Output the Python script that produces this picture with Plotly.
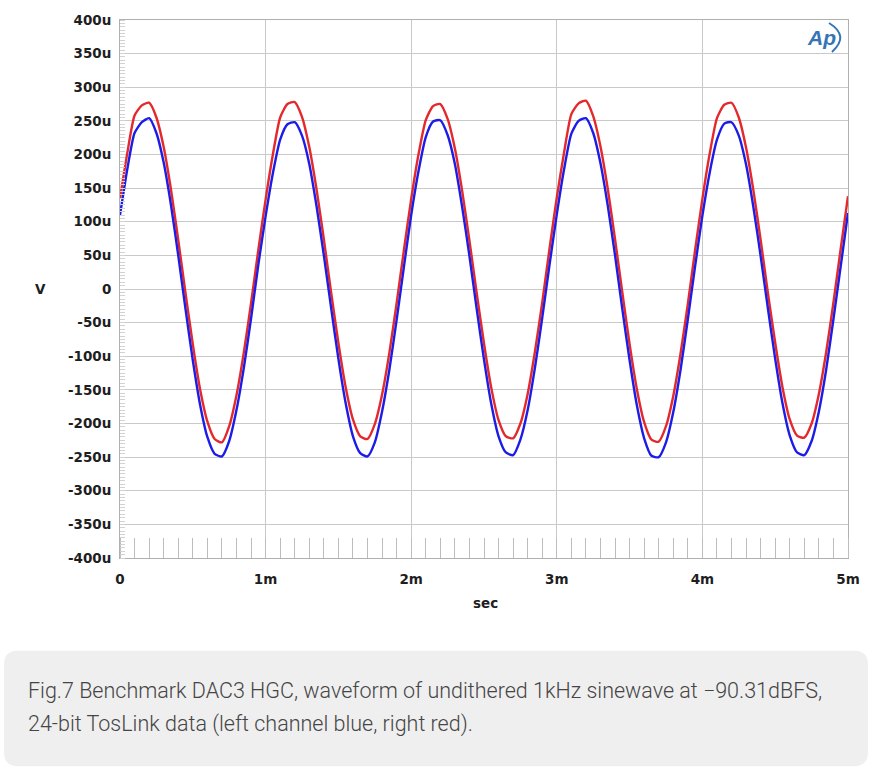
import plotly.graph_objects as go

# time in ms (0.05 ms steps)
t_ms = [round(i * 0.05, 2) for i in range(101)]

# left channel (blue), microvolts
left_uV = [
    110, 178, 232, 248, 254, 232, 188, 125, 50, -30,
    -106, -172, -220, -245, -249, -226, -180, -118, -44, 36,
    108, 172, 222, 245, 248, 228, 186, 123, 50, -28,
    -104, -170, -219, -244, -249, -228, -182, -120, -46, 33,
    110, 175, 226, 249, 251, 229, 186, 122, 49, -30,
    -105, -171, -219, -243, -247, -224, -180, -117, -43, 36,
    111, 178, 231, 250, 254, 232, 187, 124, 50, -30,
    -106, -173, -222, -248, -250, -228, -183, -120, -45, 34,
    109, 173, 222, 246, 248, 228, 185, 122, 49, -29,
    -104, -170, -218, -243, -247, -226, -182, -120, -45, 34,
    113,
]

# right channel (red), microvolts
right_uV = [
    135, 202, 258, 273, 277, 255, 211, 148, 73, -6,
    -82, -149, -197, -223, -228, -204, -158, -95, -21, 58,
    133, 200, 255, 275, 278, 256, 211, 148, 74, -5,
    -80, -146, -194, -219, -223, -201, -157, -95, -21, 58,
    134, 200, 251, 272, 275, 253, 209, 146, 72, -6,
    -81, -147, -195, -219, -222, -200, -156, -93, -20, 60,
    136, 203, 260, 276, 280, 257, 212, 149, 74, -5,
    -82, -149, -198, -224, -227, -204, -159, -96, -22, 58,
    134, 201, 254, 274, 277, 255, 210, 147, 73, -6,
    -80, -146, -194, -218, -221, -200, -156, -94, -20, 60,
    138,
]

x_tickvals = [0, 1, 2, 3, 4, 5]
x_ticktext = ["0", "1m", "2m", "3m", "4m", "5m"]
y_tickvals = [400, 350, 300, 250, 200, 150, 100, 50, 0, -50, -100, -150, -200, -250, -300, -350, -400]
y_ticktext = ["400u", "350u", "300u", "250u", "200u", "150u", "100u", "50u", "0",
              "-50u", "-100u", "-150u", "-200u", "-250u", "-300u", "-350u", "-400u"]

caption_lines = [
    "Fig.7 Benchmark DAC3 HGC, waveform of undithered 1kHz sinewave at \u221290.31dBFS,",
    "24-bit TosLink data (left channel blue, right red).",
]

W, H = 872, 768
L, R, T, B = 120, 24, 18, 210
PW, PH = W - L - R, H - T - B


def px(xp):
    return (xp - L) / PW


def py(yp):
    return (H - B - yp) / PH


fig = go.Figure()
fig.add_trace(go.Scatter(x=t_ms, y=right_uV, mode="lines", name="Right",
                         line=dict(color="#e3292b", width=2.4, shape="spline", smoothing=0.6)))
fig.add_trace(go.Scatter(x=t_ms, y=left_uV, mode="lines", name="Left",
                         line=dict(color="#1c1ce6", width=2.4, shape="spline", smoothing=0.6)))

tickfont = dict(family="DejaVu Sans, sans-serif", size=13.5, color="#1e1e1e", weight="bold")

fig.update_layout(
    width=W, height=H,
    margin=dict(l=L, r=R, t=T, b=B),
    paper_bgcolor="white", plot_bgcolor="white",
    showlegend=False,
    xaxis=dict(range=[0, 5], tickvals=x_tickvals, ticktext=x_ticktext,
               showgrid=True, gridcolor="#c9c9c9", gridwidth=1,
               zeroline=False, showline=True, linecolor="#b0b0b0", linewidth=1, mirror=True,
               ticks="", tickfont=tickfont, ticklabelstandoff=9,
               minor=dict(dtick=0.1, ticks="inside", ticklen=20, tickcolor="#bdbdbd",
                          tickwidth=1, showgrid=False)),
    yaxis=dict(range=[-400, 400], tickvals=y_tickvals, ticktext=y_ticktext,
               showgrid=True, gridcolor="#c9c9c9", gridwidth=1,
               zeroline=False, showline=True, linecolor="#b0b0b0", linewidth=1, mirror=True,
               ticks="", tickfont=tickfont, ticklabelstandoff=5,
               minor=dict(dtick=5, ticks="inside", ticklen=5, tickcolor="#d2d2d2",
                          tickwidth=1, showgrid=False)),
)

annotations = [
    dict(text="V", x=px(40), y=py(288), xref="paper", yref="paper", showarrow=False,
         font=dict(family="DejaVu Sans, sans-serif", size=13.5, color="#1e1e1e", weight="bold"),
         xanchor="center", yanchor="middle"),
    dict(text="sec", x=px(485), y=py(603), xref="paper", yref="paper", showarrow=False,
         font=dict(family="DejaVu Sans, sans-serif", size=13.5, color="#1e1e1e", weight="bold"),
         xanchor="center", yanchor="middle"),
    dict(text="<i><b>Ap</b></i>", x=px(821), y=py(36), xref="paper", yref="paper", showarrow=False,
         font=dict(family="Liberation Sans, Arial, sans-serif", size=21, color="#3574b5"),
         xanchor="center", yanchor="middle"),
]
for i, line in enumerate(caption_lines):
    annotations.append(dict(text=line, x=px(26), y=py(691 + i * 34), xref="paper", yref="paper",
                            showarrow=False, xanchor="left", yanchor="middle",
                            font=dict(family="Roboto, Noto Sans, sans-serif", size=21.5,
                                      color="#454545", weight=300)))
fig.update_layout(annotations=annotations)

# rounded caption box
x0, x1, y0, y1, r = 4, 868, 651, 767, 14
path = (f"M {px(x0 + r)},{py(y0)} L {px(x1 - r)},{py(y0)} Q {px(x1)},{py(y0)} {px(x1)},{py(y0 + r)} "
        f"L {px(x1)},{py(y1 - r)} Q {px(x1)},{py(y1)} {px(x1 - r)},{py(y1)} "
        f"L {px(x0 + r)},{py(y1)} Q {px(x0)},{py(y1)} {px(x0)},{py(y1 - r)} "
        f"L {px(x0)},{py(y0 + r)} Q {px(x0)},{py(y0)} {px(x0 + r)},{py(y0)} Z")
shapes = [
    dict(type="path", path=path, xref="paper", yref="paper", fillcolor="#efefef",
         line=dict(width=0), layer="below"),
    # arc of the logo
    dict(type="path", xref="paper", yref="paper",
         path=f"M {px(829)},{py(21)} Q {px(850)},{py(34)} {px(832)},{py(50)}",
         line=dict(color="#3574b5", width=2)),
]
fig.update_layout(shapes=shapes)

fig.write_html("out.html", config={"displayModeBar": False},
               post_script="document.body.style.margin='0';")
